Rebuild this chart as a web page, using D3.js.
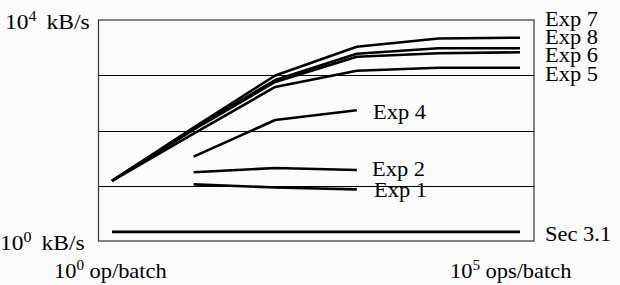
<!DOCTYPE html>
<html>
<head>
<meta charset="utf-8">
<script src="https://cdn.jsdelivr.net/npm/d3@7"></script>
<style>
  html, body { margin: 0; padding: 0; background: #fbfbfb; }
  svg { display: block; }
  text { font-family: "Liberation Serif", "Times New Roman", "DejaVu Serif", serif; fill: #000; }
</style>
</head>
<body>
<svg id="chart" width="620" height="285"></svg>
<script>
// ---- data ----
const opsPerBatch = [1, 10, 100, 1000, 10000, 100000];
const exp7 = [12.3, 113, 990, 3290, 4630, 4780];
const exp8 = [12.3, 109, 820, 2455, 3075, 3075];
const exp6 = [12.3, 104, 755, 2168, 2497, 2603];
const exp5 = [12.3, 88, 613, 1209, 1370, 1370];
const exp4 = [null, 33.6, 155, 232, null, null];
const exp2 = [null, 17.5, 21, 19.3, null, null];
const exp1 = [null, 10.6, 9.3, 8.6, null, null];
const sec31 = [1.46, 1.46, 1.46, 1.46, 1.46, 1.46];
const seriesNames = ["Exp 7", "Exp 8", "Exp 6", "Exp 5", "Exp 4", "Exp 2", "Exp 1", "Sec 3.1"];
const yTickValues = [10000, 1];
const yTickUnits = ["kB/s", "kB/s"];
const xTickValues = [1, 100000];
const xTickUnits = ["op/batch", "ops/batch"];
const gridValues = [10, 100, 1000];

// ---- layout ----
const svg = d3.select("#chart");
const frame = { left: 98.5, right: 534, top: 20, bottom: 241 };
const x = d3.scaleLog().domain([1, 100000]).range([112, 520]);
const y = d3.scaleLog().domain([1, 10000]).range([241, 20]);
const FS = 21, SX = 1.07;

svg.append("rect").attr("width", 620).attr("height", 285).attr("fill", "#fbfbfb");

// frame
svg.append("rect")
  .attr("x", frame.left).attr("y", frame.top)
  .attr("width", frame.right - frame.left).attr("height", frame.bottom - frame.top)
  .attr("fill", "none").attr("stroke", "#333").attr("stroke-width", 1.2);

// gridlines
svg.selectAll("line.grid").data(gridValues).enter().append("line")
  .attr("class", "grid")
  .attr("x1", frame.left).attr("x2", frame.right)
  .attr("y1", d => Math.round(y(d)) + 0.5).attr("y2", d => Math.round(y(d)) + 0.5)
  .attr("stroke", "#000").attr("stroke-width", 1);

// series
const allSeries = [exp7, exp8, exp6, exp5, exp4, exp2, exp1, sec31];
const line = d3.line()
  .defined(d => d.v != null)
  .x(d => x(d.x)).y(d => y(d.v));
svg.selectAll("path.series").data(allSeries).enter().append("path")
  .attr("class", "series")
  .attr("d", s => line(s.map((v, i) => ({ x: opsPerBatch[i], v }))))
  .attr("fill", "none").attr("stroke", "#000").attr("stroke-width", 2.6)
  .attr("stroke-linejoin", "round");

// helper for text with horizontal stretch
function label(px, py, parts, sx) {
  const t = svg.append("text")
    .attr("transform", `translate(${px},${py}) scale(${sx || SX},1)`)
    .attr("font-size", FS);
  parts.forEach(p => {
    const ts = t.append("tspan").text(p.t);
    if (p.sup) ts.attr("font-size", FS * 0.68).attr("dy", -8);
    if (p.down) ts.attr("dy", 8);
    if (p.dx) ts.attr("dx", p.dx);
  });
  return t;
}

// series labels
const seriesLabelPos = [[545, 26], [545, 44], [545, 62], [545, 81], [373, 119], [372, 176], [374, 197], [545, 241]];
seriesNames.forEach((n, i) => label(seriesLabelPos[i][0], seriesLabelPos[i][1], [{ t: n }]));

// y tick labels
const yLabelPos = [[5, 29], [0, 250]];
yTickValues.forEach((v, i) => {
  const e = Math.round(Math.log10(v));
  label(yLabelPos[i][0], yLabelPos[i][1], [{ t: "10" }, { t: String(e), sup: true }, { t: yTickUnits[i], down: true, dx: 9 }], 1.12);
});

// x tick labels
const xLabelPos = [[54, 278], [450, 278]];
xTickValues.forEach((v, i) => {
  const e = Math.round(Math.log10(v));
  label(xLabelPos[i][0], xLabelPos[i][1], [{ t: "10" }, { t: String(e), sup: true }, { t: xTickUnits[i], down: true, dx: 5 }]);
});
</script>
</body>
</html>
